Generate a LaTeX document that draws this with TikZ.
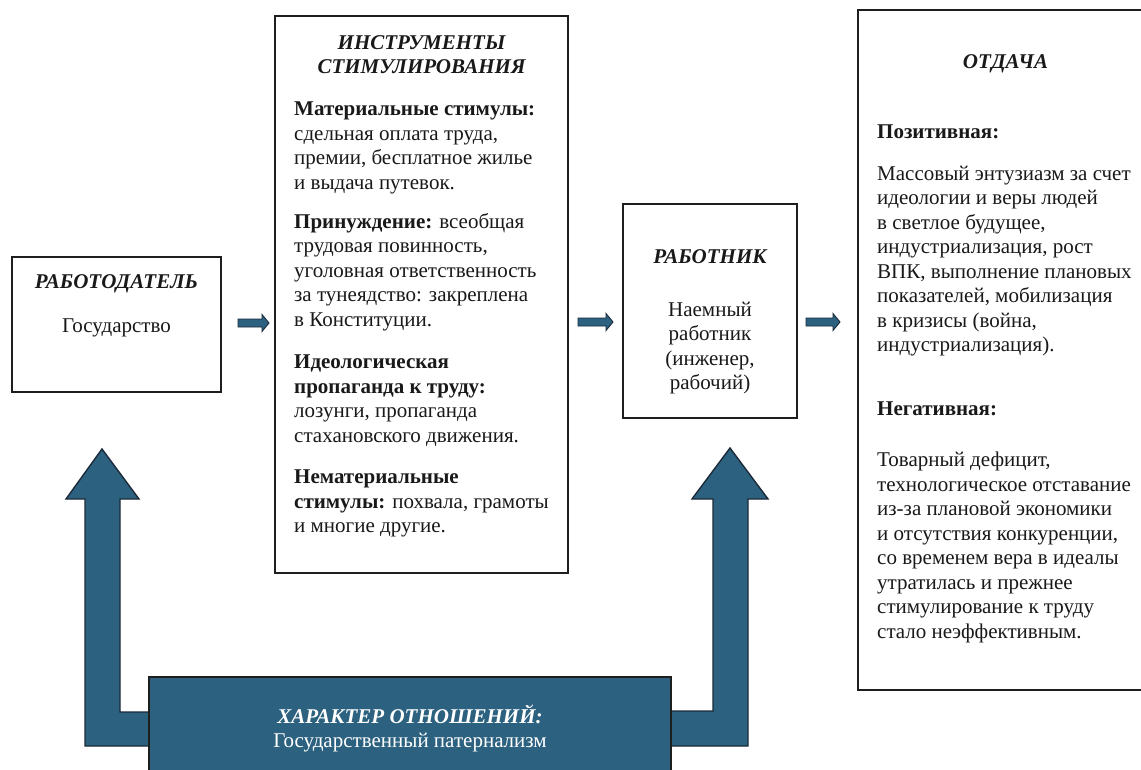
\documentclass[tikz,border=0pt]{standalone}
\usepackage{fontspec}
\setmainfont{Liberation Serif}
\definecolor{arrowblue}{RGB}{44,97,128}
\definecolor{arrowedge}{RGB}{28,42,58}
\definecolor{boxedge}{RGB}{30,30,30}
\definecolor{txt}{RGB}{25,25,25}
\newcommand{\smallarr}[3]{% x1, x2, y
  \draw[arrowedge, line width=0.9pt, fill=arrowblue]
    (#1,#3-4) -- (#2-7,#3-4) -- (#2-7,#3-8.5) -- (#2,#3) -- (#2-7,#3+8.5)
    -- (#2-7,#3+4) -- (#1,#3+4) -- cycle;}
\tikzset{
  box/.style={draw=boxedge, line width=2.8pt, fill=white, inner sep=0pt},
  ttl/.style={font=\fontsize{21}{24.5}\selectfont\bfseries\itshape, text=txt, inner sep=0pt, anchor=base},
  body/.style={font=\fontsize{21}{24.5}\selectfont, text=txt, inner sep=0pt, align=left,
    anchor=north west, yshift=17.15pt, execute at begin node=\strut},
  cbody/.style={font=\fontsize{21}{24.5}\selectfont, text=txt, inner sep=0pt, align=center,
    anchor=north, yshift=17.15pt, execute at begin node=\strut},
}
\begin{document}
\begin{tikzpicture}[x=1pt,y=-1pt]
\clip (0,0) rectangle (1141,770);
\fill[white] (0,0) rectangle (1141,770);

% big bent arrows
\draw[arrowedge, line width=1.4pt, fill=arrowblue]
  (160,712) -- (120,712) -- (120,499) -- (139,499) -- (102,449) -- (66,499)
  -- (85,499) -- (85,746) -- (160,746) -- cycle;
\draw[arrowedge, line width=1.4pt, fill=arrowblue]
  (660,711) -- (713,711) -- (713,499) -- (692,499) -- (730,448) -- (768,499)
  -- (748,499) -- (748,746) -- (660,746) -- cycle;

% boxes
\node[box, minimum width=209pt, minimum height=135pt] (emp) at (116.5,324.5) {};
\node[box, minimum width=293pt, minimum height=557pt] (ins) at (421.5,294.5) {};
\node[box, minimum width=174pt, minimum height=214pt] (wrk) at (710,311) {};
\node[box, minimum width=292pt, minimum height=680pt] (res) at (1004,350) {};
\node[draw=boxedge, line width=2.4pt, fill=arrowblue, minimum width=522pt, minimum height=113pt, inner sep=0pt] (rel) at (410,733.5) {};

% small arrows
\smallarr{238}{269}{323}
\smallarr{578}{613}{322}
\smallarr{806}{840}{322}

% employer
\node[ttl] (empt) at (116.5,288) {РАБОТОДАТЕЛЬ};
\node[cbody] (empb) at (116.5,332) {Государство};

% instruments
\node[ttl] (inst1) at (421.5,50) {ИНСТРУМЕНТЫ};
\node[ttl] (inst2) at (421.5,74) {СТИМУЛИРОВАНИЯ};
\node[body] (p1) at (294,119) {\textbf{Материальные стимулы:}\\сдельная оплата труда,\\премии, бесплатное жилье\\и выдача путевок.};
\node[body] (p2) at (294,230) {\textbf{Принуждение:} всеобщая\\трудовая повинность,\\уголовная ответственность\\за тунеядство: закреплена\\в Конституции.};
\node[body] (p3) at (294,372) {\textbf{Идеологическая}\\\textbf{пропаганда к труду:}\\лозунги, пропаганда\\стахановского движения.};
\node[body] (p4) at (294,487) {\textbf{Нематериальные}\\\textbf{стимулы:} похвала, грамоты\\и многие другие.};

% worker
\node[ttl] (wrkt) at (710,264) {РАБОТНИК};
\node[cbody] (wrkb) at (710,319) {Наемный\\работник\\(инженер,\\рабочий)};

% result
\node[ttl] (rest) at (1005.5,69) {ОТДАЧА};
\node[body] (pos) at (877,138) {\textbf{Позитивная:}};
\node[body] (posb) at (877,183) {Массовый энтузиазм за счет\\идеологии и веры людей\\в светлое будущее,\\индустриализация, рост\\ВПК, выполнение плановых\\показателей, мобилизация\\в кризисы (война,\\индустриализация).};
\node[body] (neg) at (877,415) {\textbf{Негативная:}};
\node[body] (negb) at (877,469) {Товарный дефицит,\\технологическое отставание\\из-за плановой экономики\\и отсутствия конкуренции,\\со временем вера в идеалы\\утратилась и прежнее\\стимулирование к труду\\стало неэффективным.};

% relation
\node[ttl, text=white] (relt) at (410,723.5) {ХАРАКТЕР ОТНОШЕНИЙ:};
\node[cbody, text=white] (relb) at (410,747.5) {Государственный патернализм};
\end{tikzpicture}
\end{document}
